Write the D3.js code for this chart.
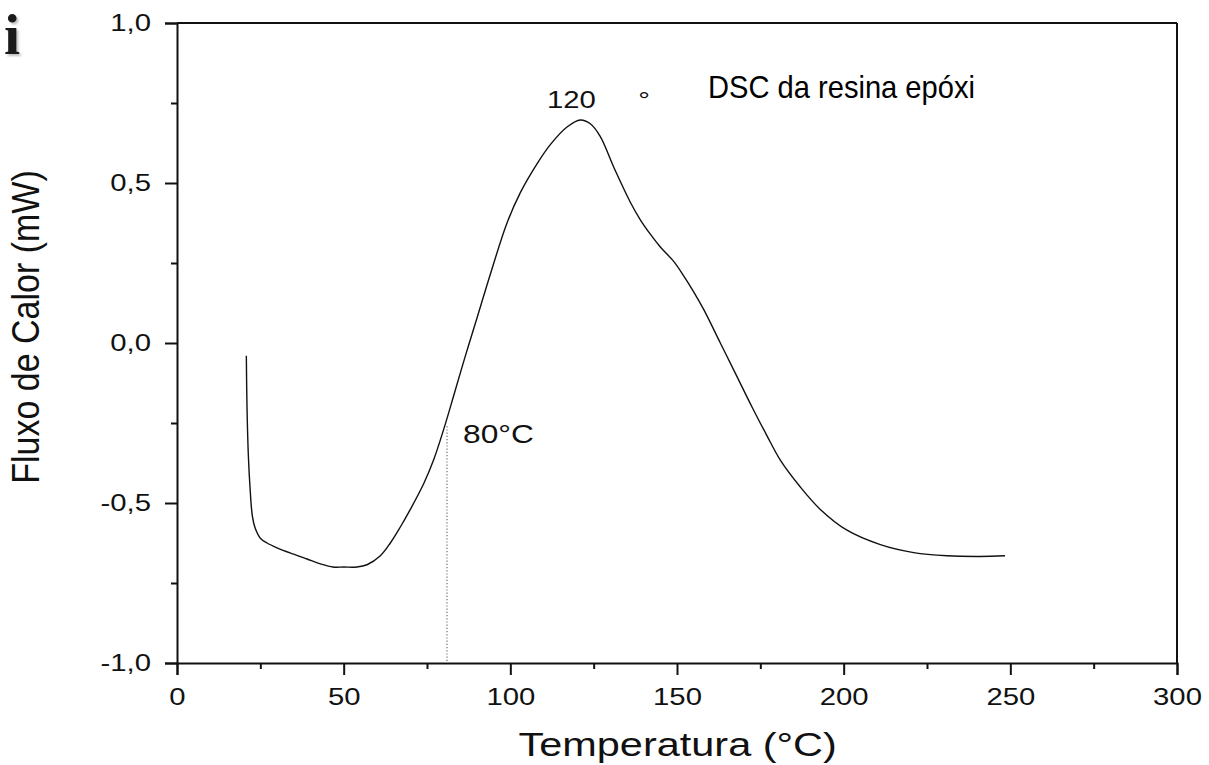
<!DOCTYPE html>
<html>
<head>
<meta charset="utf-8">
<script src="https://cdn.jsdelivr.net/npm/d3@7"></script>
<style>
  html, body { margin: 0; padding: 0; background: #fff; }
  svg { display: block; }
  text { font-family: "Liberation Sans", Arial, sans-serif; fill: #111; }
</style>
</head>
<body>
<svg id="chart" width="1209" height="765"></svg>
<script>
// ---- data ----
const temperatures = [20.8, 21.0, 21.4, 21.9, 22.6, 23.5, 25, 27, 30, 35, 39, 43, 46.8, 50, 54, 57, 61, 64, 67, 70, 74, 77, 80, 83, 86.4, 90, 94, 99, 103, 108, 112, 117, 121, 124, 127, 131, 136, 139, 142, 145, 149, 152, 155, 158, 163, 168, 172.5, 177, 181, 187, 193, 201, 211, 221, 231, 241, 248.4];
const heatFlow     = [-0.04, -0.20, -0.35, -0.45, -0.54, -0.58, -0.61, -0.625, -0.64, -0.66, -0.675, -0.69, -0.70, -0.70, -0.70, -0.693, -0.665, -0.625, -0.575, -0.52, -0.44, -0.365, -0.27, -0.165, -0.044, 0.078, 0.215, 0.375, 0.47, 0.56, 0.62, 0.675, 0.697, 0.685, 0.645, 0.55, 0.44, 0.385, 0.34, 0.30, 0.255, 0.21, 0.16, 0.105, 0.0, -0.105, -0.20, -0.29, -0.366, -0.45, -0.52, -0.585, -0.63, -0.655, -0.665, -0.667, -0.665];
const xTicks = [0, 50, 100, 150, 200, 250, 300];
const xMinorTicks = [25, 75, 125, 175, 225, 275];
const yTicks = [-1.0, -0.5, 0.0, 0.5, 1.0];
const yMinorTicks = [-0.75, -0.25, 0.25, 0.75];
const markerTemp = [81];
const markerFlow = [-0.26, -1.0];
const peakLabel = "120 °";
const onsetLabel = "80°C";
const titleText = "DSC da resina epóxi";
const xTitle = "Temperatura (°C)";
const yTitle = "Fluxo de Calor (mW)";

// ---- drawing ----
const svg = d3.select("#chart");
const x = d3.scaleLinear().domain([0, 300]).range([177, 1177]);
const y = d3.scaleLinear().domain([-1, 1]).range([663, 23]);
const SX = 1.22; // horizontal stretch of the original image text

const fmt = d => d3.format(".1f")(d).replace(".", ",").replace("−", "-");

// fragment of slide glyph in top-left
svg.append("text")
  .attr("x", 4).attr("y", 54)
  .style("font-family", "'Liberation Serif', 'DejaVu Serif', serif")
  .style("font-weight", "bold")
  .style("font-size", "58px")
  .style("fill", "#1a1a1a")
  .style("filter", "drop-shadow(2px 2px 1px rgba(0,0,0,0.25))")
  .text("i");

// frame (top & right)
svg.append("line").attr("x1", x(0)).attr("x2", x(300)).attr("y1", y(1)).attr("y2", y(1))
  .attr("stroke", "#111").attr("stroke-width", 2);
svg.append("line").attr("x1", x(300)).attr("x2", x(300)).attr("y1", y(1)).attr("y2", y(-1))
  .attr("stroke", "#111").attr("stroke-width", 2);

// bottom axis
const gx = svg.append("g").attr("transform", `translate(0,${y(-1)})`)
  .call(d3.axisBottom(x).tickValues(xTicks).tickSize(12).tickPadding(13).tickFormat(d3.format("d")));
gx.select(".domain").attr("stroke", "#111").attr("stroke-width", 2);
gx.selectAll(".tick line").attr("stroke", "#111").attr("stroke-width", 2);
gx.selectAll(".tick text").style("font-size", "24px").attr("fill", "#111")
  .attr("transform", `scale(${SX},1)`);
svg.append("g").attr("transform", `translate(0,${y(-1)})`)
  .call(d3.axisBottom(x).tickValues(xMinorTicks).tickSize(6).tickFormat(""))
  .call(g => g.select(".domain").remove())
  .selectAll(".tick line").attr("stroke", "#111").attr("stroke-width", 2);

// left axis
const gy = svg.append("g").attr("transform", `translate(${x(0)},0)`)
  .call(d3.axisLeft(y).tickValues(yTicks).tickSize(12).tickPadding(15).tickFormat(fmt));
gy.select(".domain").attr("stroke", "#111").attr("stroke-width", 2);
gy.selectAll(".tick line").attr("stroke", "#111").attr("stroke-width", 2);
gy.selectAll(".tick text").style("font-size", "24px").attr("fill", "#111")
  .attr("x", -26 / SX).attr("transform", `scale(${SX},1)`);
svg.append("g").attr("transform", `translate(${x(0)},0)`)
  .call(d3.axisLeft(y).tickValues(yMinorTicks).tickSize(6).tickFormat(""))
  .call(g => g.select(".domain").remove())
  .selectAll(".tick line").attr("stroke", "#111").attr("stroke-width", 2);

// dotted onset marker
svg.append("line")
  .attr("x1", x(markerTemp[0])).attr("x2", x(markerTemp[0]))
  .attr("y1", y(markerFlow[0])).attr("y2", y(markerFlow[1]))
  .attr("stroke", "#777").attr("stroke-width", 1.3).attr("stroke-dasharray", "1.2,2");

// curve
const pts = temperatures.map((t, i) => [t, heatFlow[i]]);
svg.append("path").datum(pts)
  .attr("fill", "none").attr("stroke", "#111").attr("stroke-width", 1.4)
  .attr("d", d3.line().x(d => x(d[0])).y(d => y(d[1])).curve(d3.curveCatmullRom.alpha(0.5)));

// annotations
svg.append("text").attr("transform", `translate(547,108) scale(${SX},1)`)
  .style("font-size", "24px").style("word-spacing", "28px").text(peakLabel);
svg.append("text").attr("transform", `translate(463,443) scale(${SX},1)`)
  .style("font-size", "26px").text(onsetLabel);
svg.append("text").attr("transform", "translate(708,98) scale(0.91,1)")
  .style("font-size", "32px").style("fill", "#000").text(titleText);

// axis titles
svg.append("text").attr("transform", `translate(${x(150.2)},756) scale(1.22,1)`)
  .attr("text-anchor", "middle").style("font-size", "34px").text(xTitle);
svg.append("text").attr("transform", `translate(39,${y(0.05)}) scale(1.15,1) rotate(-90)`)
  .attr("text-anchor", "middle").style("font-size", "34px").text(yTitle);
</script>
</body>
</html>
